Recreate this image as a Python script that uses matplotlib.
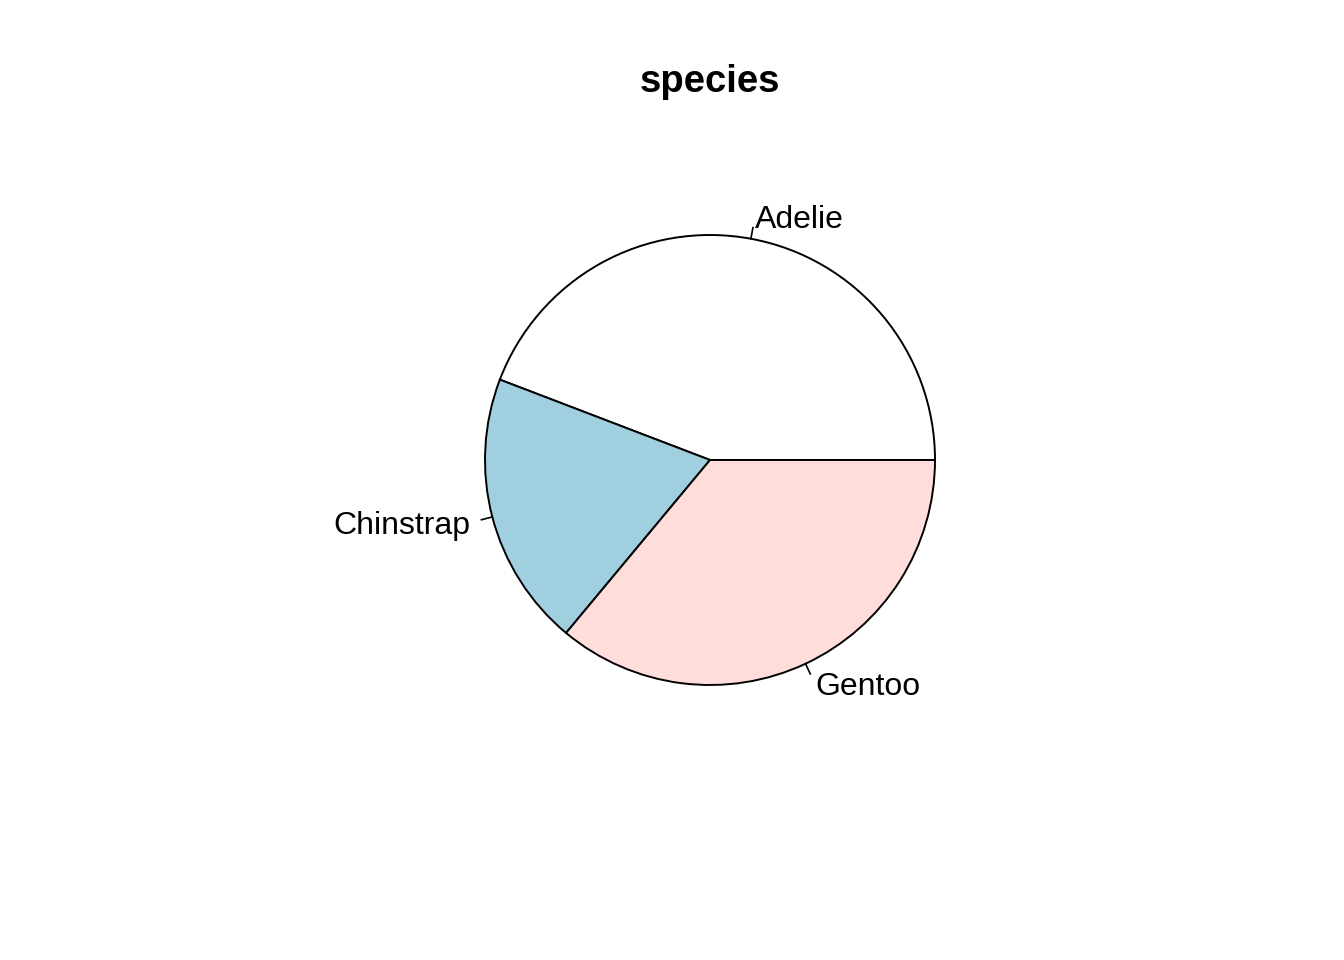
import numpy as np
import matplotlib
matplotlib.use("Agg")
import matplotlib.pyplot as plt

plt.rcParams["font.family"] = ["Liberation Sans", "DejaVu Sans"]

# penguins species counts
species = ["Adelie", "Chinstrap", "Gentoo"]
counts = [152, 68, 124]
colors = ["white", "#a0d0e0", "#ffdddb"]

W, H = 1344, 960
fig = plt.figure(figsize=(W / 100, H / 100), dpi=100)
ax = fig.add_axes([0, 0, 1, 1])

cx, cy, r = 710, H - 460, 225
ax.pie(counts, colors=colors, startangle=0, counterclock=True,
       center=(cx, cy), radius=r,
       wedgeprops=dict(edgecolor="black", linewidth=1.4))

# R-style labels: tick from r to 1.05r, text at 1.1r
frac = np.cumsum([0] + counts) / sum(counts)
for name, a0, a1 in zip(species, frac[:-1], frac[1:]):
    ang = np.pi * (a0 + a1)
    c, s = np.cos(ang), np.sin(ang)
    ax.plot([cx + r * c, cx + 1.05 * r * c], [cy + r * s, cy + 1.05 * r * s],
            color="black", lw=1.2)
    ax.text(cx + 1.1 * r * c, cy + 1.1 * r * s - 3, name, fontsize=23,
            ha="left" if c > 0 else "right", va="center")

ax.text(cx, H - 82, "species", fontsize=27.5, fontweight="bold",
        ha="center", va="center")

ax.set_xlim(0, W)
ax.set_ylim(0, H)
ax.set_aspect("equal")
ax.axis("off")
fig.savefig("out.png", dpi=100)
